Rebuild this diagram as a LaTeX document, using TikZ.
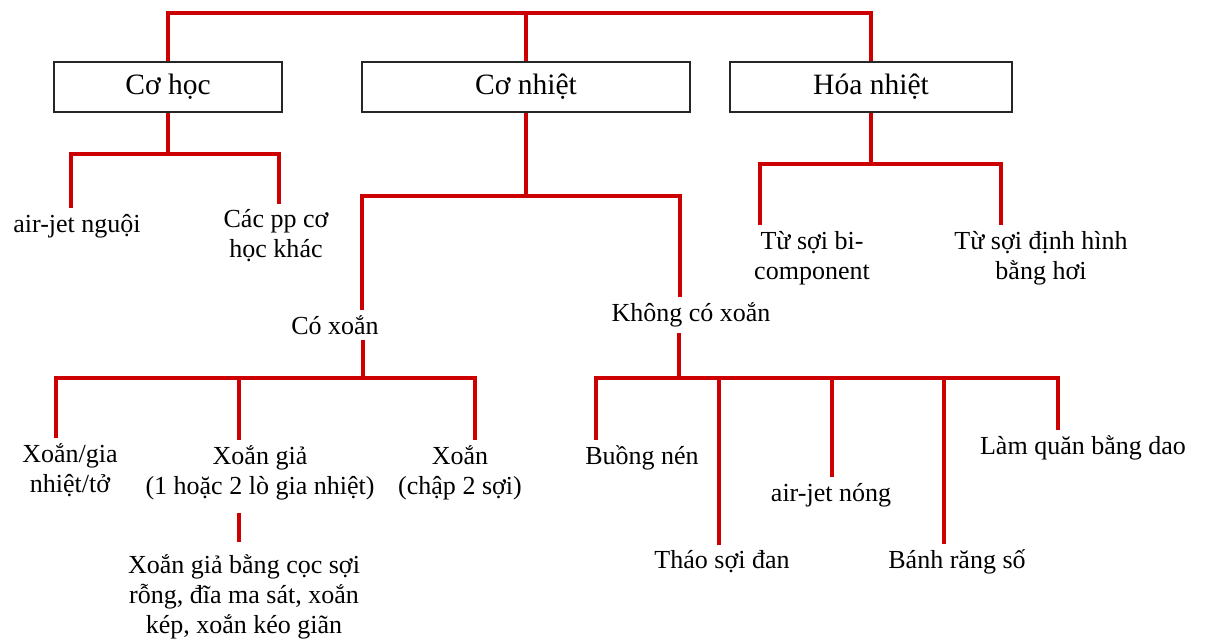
\documentclass[tikz,border=0pt]{standalone}
\usepackage{fontspec}
\setmainfont{Liberation Serif}
\usetikzlibrary{calc}
\definecolor{dodo}{RGB}{204,0,0}
\tikzset{
  hop/.style={draw=black!85, line width=1.4pt, minimum height=1.25cm, inner sep=0pt, font=\fontsize{21}{24}\selectfont},
  nhan/.style={align=center, inner sep=1pt, font=\fontsize{18.5}{21.3}\selectfont},
  nhanh/.style={dodo, line width=2.6pt},
  cach/.style={shorten <=3pt, shorten >=3pt},
}
\begin{document}
\begin{tikzpicture}[x=0.025cm, y=-0.025cm]
\useasboundingbox (0,0) rectangle (1208,643);

% ba nhóm chính
\node[hop, minimum width=5.7cm] (coho) at (168,87) {Cơ học};
\node[hop, minimum width=8.2cm] (conhiet) at (526,87) {Cơ nhiệt};
\node[hop, minimum width=7.05cm] (hoanhiet) at (871,87) {Hóa nhiệt};
\coordinate (goc) at (526,13);
\draw[nhanh] (coho.north) |- (goc) -| (hoanhiet.north);
\draw[nhanh] (goc) -- (conhiet.north);

% nhánh cơ học
\node[nhan] (airjet) at (77,226) {air-jet nguội};
\node[nhan] (khac) at (276,236) {Các pp cơ\\học khác};
\coordinate (rCH) at (168,154);
\draw[nhanh] (coho.south) -- (rCH);
\draw[nhanh, cach] ($(airjet.north)+(-6,0)$) |- (rCH) -| ($(khac.north)+(3,0)$);

% nhánh cơ nhiệt
\node[nhan] (coxoan) at (335,325) {Có xoắn};
\node[nhan] (khong) at (691,315) {Không có xoắn};
\coordinate (rCN) at (526,196);
\draw[nhanh] (conhiet.south) -- (rCN);
\draw[nhanh, cach] ($(coxoan.north)+(27,0)$) |- (rCN) -| ($(khong.north)+(-11,0)$);

% nhánh hóa nhiệt
\node[nhan] (bicomp) at (812,258) {Từ sợi bi-\\component};
\node[nhan] (hoi) at (1041,258) {Từ sợi định hình\\bằng hơi};
\coordinate (rHN) at (871,164);
\draw[nhanh] (hoanhiet.south) -- (rHN);
\draw[nhanh, cach] ($(bicomp.north)+(-52,0)$) |- (rHN) -| ($(hoi.north)+(-40,0)$);

% có xoắn
\node[nhan] (xgia) at (70,470) {Xoắn/gia\\nhiệt/tở};
\node[nhan] (xgia2) at (260,473) {Xoắn giả\\(1 hoặc 2 lò gia nhiệt)};
\node[nhan] (chap) at (460,473) {Xoắn\\(chập 2 sợi)};
\node[nhan] (coc) at (244,597) {Xoắn giả bằng cọc sợi\\rỗng, đĩa ma sát, xoắn\\kép, xoắn kéo giãn};
\coordinate (rCX) at (363,378);
\draw[nhanh, shorten <=3pt] ($(coxoan.south)+(28,0)$) -- (rCX);
\draw[nhanh, cach] ($(xgia.north)+(-14,0)$) |- (rCX) -| ($(chap.north)+(15,0)$);
\draw[nhanh, shorten <=3pt] ($(xgia2.north)+(-21,0)$) |- (rCX);
\draw[nhanh, shorten <=8pt, shorten >=8pt] ($(xgia2.south)+(-21,0)$) -- ($(coc.north)+(-5,0)$);

% không có xoắn
\node[nhan] (buong) at (642,458) {Buồng nén};
\node[nhan] (thao) at (722,562) {Tháo sợi đan};
\node[nhan] (airnong) at (831,495) {air-jet nóng};
\node[nhan] (banh) at (957,562) {Bánh răng số};
\node[nhan] (lam) at (1083,448) {Làm quăn bằng dao};
\coordinate (rKX) at (679,378);
\draw[nhanh, shorten <=3pt] ($(khong.south)+(-12,0)$) -- (rKX);
\draw[nhanh, cach] ($(buong.north)+(-46,0)$) |- (rKX) -| ($(lam.north)+(-25,0)$);
\draw[nhanh, shorten <=3pt] ($(thao.north)+(-3,0)$) |- (rKX);
\draw[nhanh, shorten <=3pt] ($(airnong.north)+(1,0)$) |- (rKX);
\draw[nhanh, shorten <=3pt] ($(banh.north)+(-13,0)$) |- (rKX);

\end{tikzpicture}
\end{document}
